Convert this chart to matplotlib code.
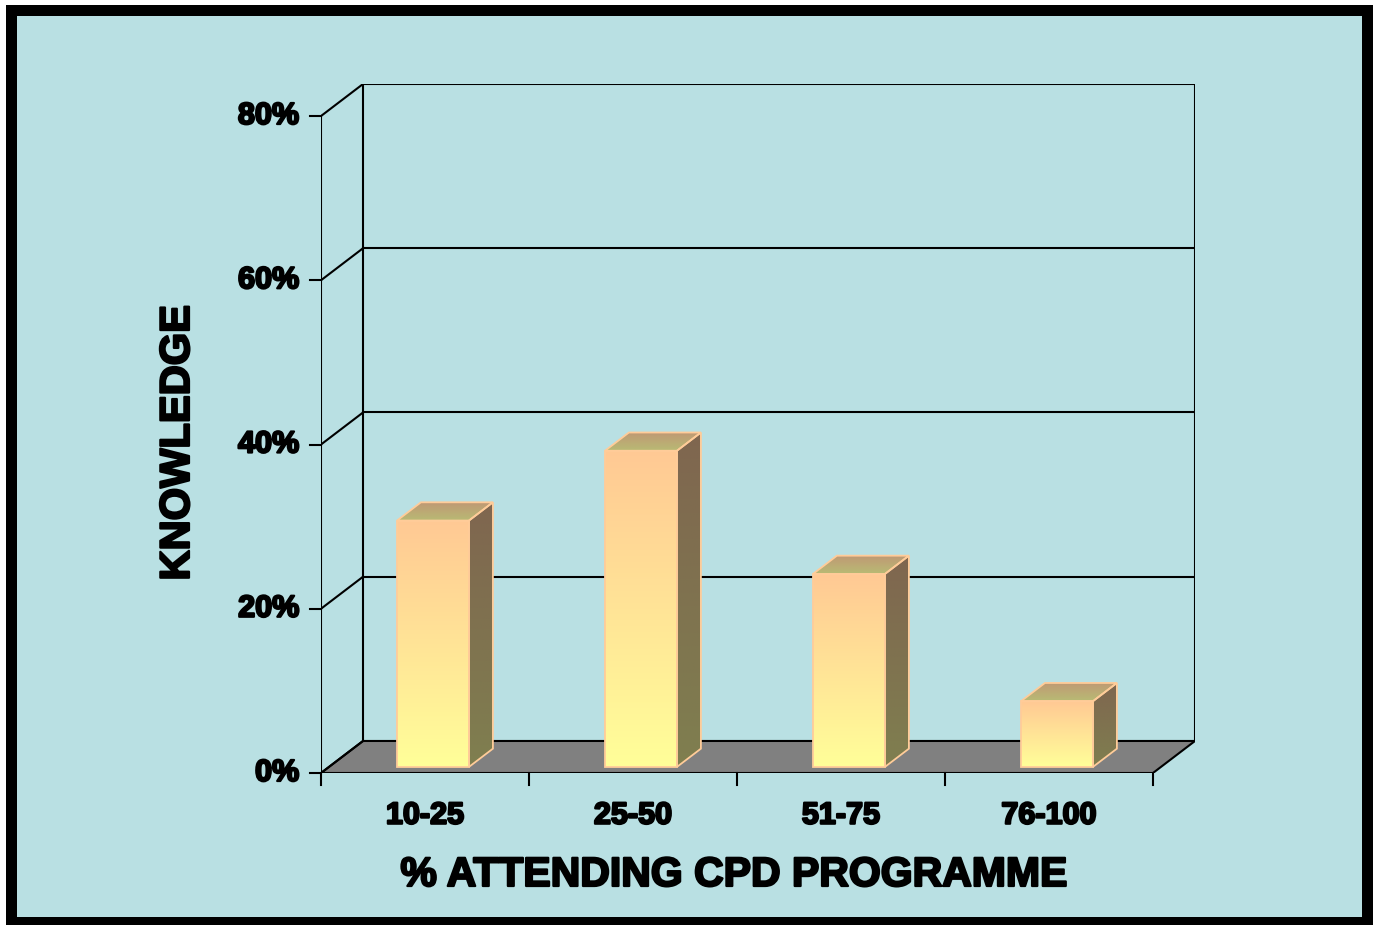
import numpy as np
import matplotlib.pyplot as plt
import matplotlib.patheffects as pe
from matplotlib.patches import Polygon, Rectangle
from matplotlib.colors import LinearSegmentedColormap

# survey results
categories = ['10-25', '25-50', '51-75', '76-100']
knowledge = [30, 38.5, 23.5, 8]
y_ticks = [0, 20, 40, 60, 80]
y_tick_labels = ['0%', '20%', '40%', '60%', '80%']
x_title = '% ATTENDING CPD PROGRAMME'
y_title = 'KNOWLEDGE'

BG = '#b9e0e3'
FLOOR = '#808080'
EDGE = '#ffcc99'
W, H = 1379, 925

plt.rcParams['font.family'] = ['Liberation Sans', 'DejaVu Sans']
# thicker strokes to get a heavy face
heavy = [pe.withStroke(linewidth=1.6, foreground='black')]

fig = plt.figure(figsize=(W / 100, H / 100), dpi=100)
fig.patch.set_facecolor('white')
# black frame around the slide
fig.add_artist(Rectangle((6 / W, 0), (1373 - 6) / W, (H - 5) / H,
                         transform=fig.transFigure, facecolor='black',
                         edgecolor='none', zorder=0))
fig.add_artist(Rectangle((17 / W, (H - 917) / H), (1362 - 17) / W, (917 - 16) / H,
                         transform=fig.transFigure, facecolor=BG,
                         edgecolor='none', zorder=0))

# depth of the 3d box in data units
DX = 0.202
DY = 3.9
n = len(categories)
ymax = y_ticks[-1]

ax = fig.add_axes([321 / W, (H - 773) / H, (1195 - 321) / W, (773 - 84) / H])
ax.axis('off')
ax.set_facecolor('none')

lw = 1.5
# floor
ax.add_patch(Polygon([(0, 0), (n, 0), (n + DX, DY), (DX, DY)], closed=True,
                     facecolor=FLOOR, edgecolor='black', lw=lw, zorder=1))
# back wall and side wall grid
for v in y_ticks[1:]:
    ax.plot([DX, n + DX], [v + DY, v + DY], color='black', lw=lw, zorder=1)
for v, lab in zip(y_ticks, y_tick_labels):
    ax.plot([0, DX], [v, v + DY], color='black', lw=lw, zorder=1)
    ax.plot([-0.053, 0], [v, v], color='black', lw=lw, zorder=1, clip_on=False)
    ax.text(-0.105, v, lab, ha='right', va='center', fontsize=22,
            fontweight='bold', clip_on=False, path_effects=heavy)
ax.plot([DX, DX], [DY, ymax + DY], color='black', lw=lw, zorder=1)
ax.plot([n + DX, n + DX], [DY, ymax + DY], color='black', lw=lw, zorder=1)
ax.plot([0, 0], [0, ymax], color='black', lw=lw, zorder=1)

# category ticks and labels
for i in range(n + 1):
    ax.plot([i, i], [0, -1.5], color='black', lw=lw, clip_on=False)
for i, c in enumerate(categories):
    ax.text(i + 0.5, -5.2, c, ha='center', va='center', fontsize=22,
            fontweight='bold', clip_on=False, path_effects=heavy)


def shade(pts, c_top, c_bottom, z):
    poly = Polygon(pts, closed=True, facecolor='none', edgecolor=EDGE,
                   lw=1.3, zorder=z + 0.1)
    ax.add_patch(poly)
    xs, ys = zip(*pts)
    cmap = LinearSegmentedColormap.from_list('g', [c_bottom, c_top])
    img = ax.imshow(np.linspace(0, 1, 256).reshape(-1, 1), origin='lower',
                    extent=[min(xs), max(xs), min(ys), max(ys)], cmap=cmap,
                    aspect='auto', zorder=z, interpolation='bilinear')
    img.set_clip_path(poly)


half = 0.173
f0 = 0.19   # bar front position in depth
fd = 0.57   # bar depth
for i, v in enumerate(knowledge):
    x0 = i + 0.5 - half + f0 * DX
    x1 = i + 0.5 + half + f0 * DX
    y0 = f0 * DY
    y1 = v + f0 * DY
    ddx, ddy = fd * DX, fd * DY
    shade([(x0, y0), (x1, y0), (x1, y1), (x0, y1)], '#ffc994', '#ffff99', 3)
    shade([(x1, y0), (x1 + ddx, y0 + ddy), (x1 + ddx, y1 + ddy), (x1, y1)],
          '#7f6650', '#7f7f4f', 3)
    shade([(x0, y1), (x1, y1), (x1 + ddx, y1 + ddy), (x0 + ddx, y1 + ddy)],
          '#c09874', '#b8bb74', 3)

ax.set_xlim(0, n + DX)
ax.set_ylim(0, ymax + DY)

fig.text(734 / W, 1 - 875 / H, x_title, ha='center', va='center',
         fontsize=29.5, fontweight='bold', path_effects=heavy)
fig.text(178 / W, 1 - 443 / H, y_title, ha='center', va='center',
         rotation=90, fontsize=30, fontweight='bold', path_effects=heavy)

fig.savefig('out.png', dpi=100, facecolor=fig.get_facecolor())
